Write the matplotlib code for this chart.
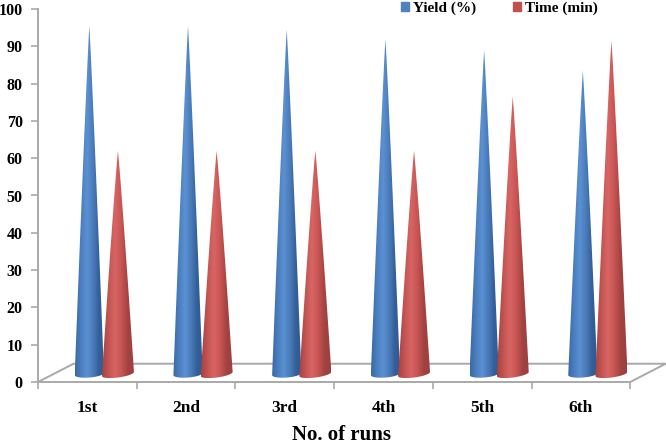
import numpy as np
import matplotlib
matplotlib.use("Agg")
import matplotlib.pyplot as plt
from matplotlib.patches import Polygon, Patch
from matplotlib.colors import LinearSegmentedColormap

runs = ["1st", "2nd", "3rd", "4th", "5th", "6th"]
yield_pct = [95.5, 95.5, 94.5, 92, 89, 83.5]
time_min = [62, 62, 62, 62, 76.5, 91.5]

W, H = 666, 444
plt.rcParams['font.family'] = ['Liberation Serif', 'DejaVu Serif']
plt.rcParams['font.weight'] = 'bold'

fig = plt.figure(figsize=(W / 100, H / 100), dpi=100)
ax = fig.add_axes([38 / W, (H - 382) / H, (W - 38) / W, 373 / H])
ax.patch.set_alpha(0)
ax.set_xlim(0, (W - 38) / 98.7)
ax.set_ylim(0, 100)

blue_cmap = LinearSegmentedColormap.from_list("b", ["#3a69a6", "#4a7fc0", "#5b90d2", "#4a7cba", "#33609a", "#2f5a92"])
red_cmap = LinearSegmentedColormap.from_list("r", ["#a84240", "#c25452", "#d86563", "#c85654", "#a54341", "#984040"])


def draw_cone(x, top, cmap, z, hw, tilt):
    base = 2.15
    t = np.linspace(np.pi, 2 * np.pi, 40)
    ex = x + hw * np.cos(t)
    ey = base + 0.95 * np.sin(t) + tilt * np.cos(t)
    # sides bulge a little on the way down from the tip
    f = np.linspace(0, 1, 20)[1:-1]
    left = [(x - hw * fi ** 0.92, top + (ey[0] - top) * fi) for fi in f]
    right = [(x + hw * fi ** 0.92, top + (ey[-1] - top) * fi) for fi in f[::-1]]
    pts = [(x, top)] + left + list(zip(ex, ey)) + right
    poly = Polygon(pts, closed=True, transform=ax.transData, facecolor='none', edgecolor='none')
    ax.add_patch(poly)
    grad = np.linspace(0, 1, 64).reshape(1, -1)
    im = ax.imshow(grad, extent=[x - hw, x + hw, 0, top], cmap=cmap, aspect='auto', zorder=z,
                   interpolation='bilinear')
    im.set_clip_path(poly)


# floor of the 3D plot
floor_x = [0, 0.36, 6.36, 6.0]
floor_y = [0, 4.9, 4.9, 0]
ax.plot(floor_x, floor_y, color='#a9a9a9', lw=1.4, zorder=1, clip_on=False)

for i in range(len(runs)):
    draw_cone(i + 0.52, yield_pct[i], blue_cmap, 3, 0.148, 0.3)
    draw_cone(i + 0.81, time_min[i], red_cmap, 4, 0.162, 0.55)

ax.set_xlim(0, (W - 38) / 98.7)
ax.set_ylim(0, 100)

for s in ['top', 'right']:
    ax.spines[s].set_visible(False)
for s in ['left', 'bottom']:
    ax.spines[s].set_color('#a9a9a9')
    ax.spines[s].set_linewidth(1.4)
ax.spines['bottom'].set_bounds(0, 6)

ax.set_yticks(range(0, 101, 10))
ax.set_xticks(range(7))
ax.set_xticklabels([])
ax.set_xticks([i + 0.5 for i in range(6)], minor=True)
ax.set_xticklabels(runs, minor=True)
ax.tick_params(axis='x', which='major', length=5, width=1.2, color='#a9a9a9')
ax.tick_params(axis='x', which='minor', length=0, pad=13, labelsize=12.5)
ax.tick_params(axis='y', length=5, width=1.2, color='#a9a9a9', labelsize=11.5, pad=6)

fig.text(341.5 / W, 1 - 440 / H, "No. of runs", ha='center', va='baseline', fontsize=15, fontweight='bold')

handles = [Patch(color='#4f81bd', label='Yield (%)'), Patch(color='#c0504d', label='Time (min)')]
ax.legend(handles=handles, ncols=2, frameon=False, loc='upper left', bbox_to_anchor=(401 / W, 1 - 1.5 / H),
          bbox_transform=fig.transFigure, fontsize=11, handlelength=0.5, handleheight=0.5,
          handletextpad=0.3, columnspacing=2.4, borderpad=0, borderaxespad=0)

fig.savefig("out.png", dpi=100)
